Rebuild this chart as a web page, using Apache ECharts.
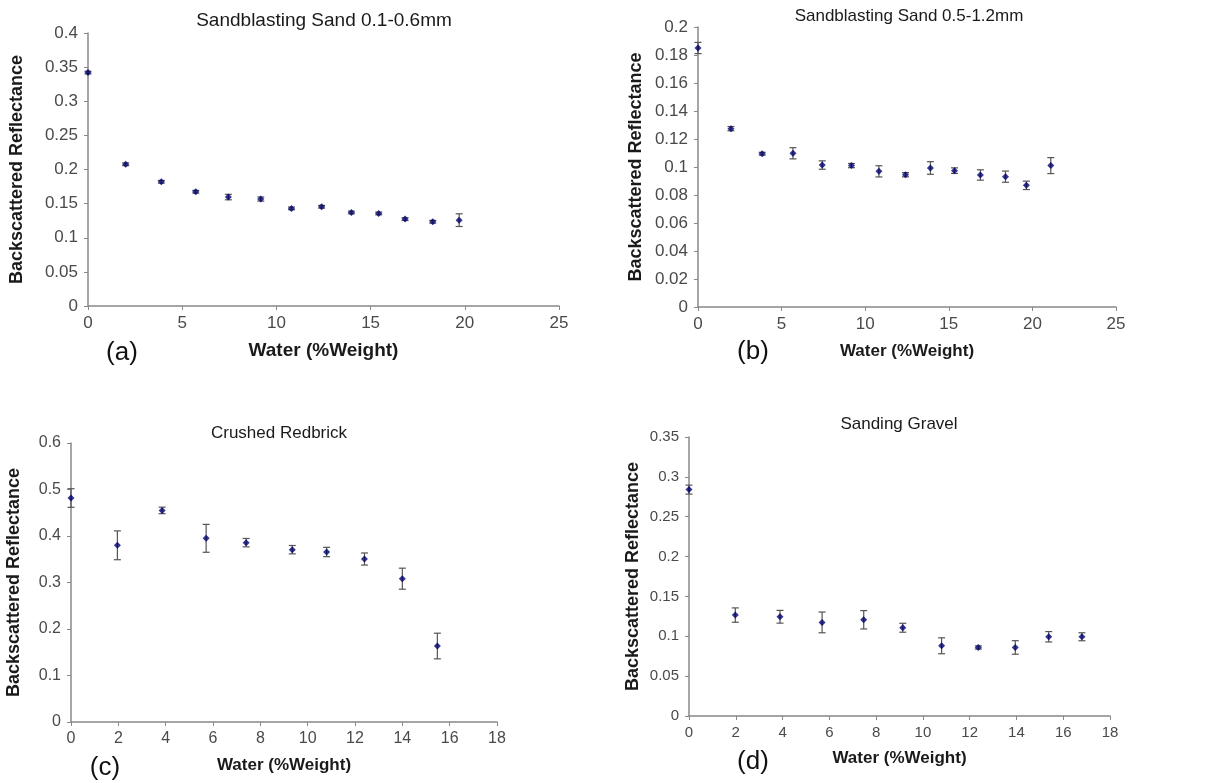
<!DOCTYPE html>
<html>
<head>
<meta charset="utf-8">
<script src="https://cdn.jsdelivr.net/npm/echarts@6/dist/echarts.min.js"></script>
<style>
html,body{margin:0;padding:0;background:#fff;}
#chart{width:1210px;height:783px;}
</style>
</head>
<body>
<div id="chart"></div>
<script>
// ---- Data ----
const titles = ['Sandblasting Sand 0.1-0.6mm', 'Sandblasting Sand 0.5-1.2mm', 'Crushed Redbrick', 'Sanding Gravel'];
const panelLabels = ['(a)', '(b)', '(c)', '(d)'];
const xAxisTitle = 'Water (%Weight)';
const yAxisTitle = 'Backscattered Reflectance';

const waterA = [0, 2.0, 3.89, 5.72, 7.45, 9.17, 10.8, 12.4, 13.98, 15.43, 16.83, 18.3, 19.7];
const reflA  = [0.342, 0.2076, 0.182, 0.1674, 0.1596, 0.1567, 0.143, 0.1454, 0.137, 0.1356, 0.1273, 0.1234, 0.1258];
const errA   = [0.002, 0.002, 0.002, 0.002, 0.004, 0.003, 0.002, 0.002, 0.002, 0.002, 0.002, 0.002, 0.0093];

const waterB = [0, 1.97, 3.84, 5.68, 7.43, 9.18, 10.82, 12.41, 13.9, 15.34, 16.89, 18.39, 19.64, 21.1];
const reflB  = [0.185, 0.1274, 0.1095, 0.1098, 0.1014, 0.101, 0.0969, 0.0945, 0.0993, 0.0974, 0.0943, 0.0931, 0.0869, 0.101];
const errB   = [0.004, 0.0015, 0.001, 0.004, 0.003, 0.0015, 0.004, 0.0015, 0.0045, 0.002, 0.0037, 0.004, 0.003, 0.0057];

const waterC = [0, 1.96, 3.85, 5.71, 7.4, 9.35, 10.8, 12.4, 14.0, 15.48];
const reflC  = [0.4817, 0.38, 0.455, 0.395, 0.3857, 0.3706, 0.3656, 0.3505, 0.3082, 0.1634];
const errC   = [0.02, 0.031, 0.007, 0.03, 0.009, 0.009, 0.01, 0.013, 0.0226, 0.0276];

const waterD = [0, 1.98, 3.89, 5.69, 7.47, 9.14, 10.8, 12.37, 13.95, 15.38, 16.8];
const reflD  = [0.284, 0.1266, 0.1245, 0.1174, 0.1207, 0.1107, 0.0881, 0.086, 0.086, 0.0994, 0.0994];
const errD   = [0.0056, 0.009, 0.008, 0.013, 0.0115, 0.0056, 0.01, 0.002, 0.0085, 0.0065, 0.005];

const xMax = [25, 25, 18, 18];
const xStep = [5, 5, 2, 2];
const yMax = [0.4, 0.2, 0.6, 0.35];
const yStep = [0.05, 0.02, 0.1, 0.05];

const panels = [
  [waterA, reflA, errA],
  [waterB, reflB, errB],
  [waterC, reflC, errC],
  [waterD, reflD, errD]
];

// ---- Layout ----
const grids = [
  {left: 88, top: 33, width: 471, height: 273},
  {left: 698, top: 27, width: 418, height: 280},
  {left: 71, top: 443, width: 426, height: 279},
  {left: 689, top: 437, width: 421, height: 279}
];
const yNameGap = [62, 53, 48, 47];
const xNameGap = [35, 36, 35, 34];
const titleFont = [19, 17, 17, 17];
const xNameFont = [19, 17, 17, 17];
const tickFont = [17, 17, 16, 15];
const titlePos = [
  {x: 319, y: 6}, {x: 904, y: 3}, {x: 274, y: 420}, {x: 894, y: 411}
];
const labelPos = [
  {x: 122, y: 353}, {x: 753, y: 352}, {x: 105, y: 768}, {x: 753, y: 762}
];

const axisGray = '#888888';
const textGray = '#4a4a4a';
const font = 'Liberation Sans, Arial, sans-serif';

const option = {
  backgroundColor: '#fff',
  animation: false,
  title: titles.map((t, i) => ({
    text: t,
    left: titlePos[i].x,
    top: titlePos[i].y,
    textAlign: 'center',
    textStyle: {fontFamily: font, fontSize: titleFont[i], fontWeight: 'normal', color: '#1a1a1a'}
  })),
  graphic: panelLabels.map((t, i) => ({
    type: 'text',
    x: labelPos[i].x,
    y: labelPos[i].y,
    style: {text: t, font: '26px Liberation Sans, Arial, sans-serif', fill: '#111',
      align: 'center', verticalAlign: 'middle'}
  })),
  grid: grids.map(g => Object.assign({containLabel: false}, g)),
  xAxis: grids.map((g, i) => ({
    gridIndex: i,
    type: 'value',
    min: 0,
    max: xMax[i],
    interval: xStep[i],
    name: xAxisTitle,
    nameLocation: 'middle',
    nameGap: xNameGap[i],
    nameTextStyle: {fontFamily: font, fontSize: xNameFont[i], fontWeight: 'bold', color: '#1a1a1a'},
    axisLine: {show: true, lineStyle: {color: axisGray, width: 1.5}},
    axisTick: {show: true, inside: false, length: 4, lineStyle: {color: axisGray}},
    axisLabel: {fontFamily: font, fontSize: tickFont[i], color: textGray, margin: 9},
    splitLine: {show: false}
  })),
  yAxis: grids.map((g, i) => ({
    gridIndex: i,
    type: 'value',
    min: 0,
    max: yMax[i],
    interval: yStep[i],
    name: yAxisTitle,
    nameLocation: 'middle',
    nameRotate: 90,
    nameGap: yNameGap[i],
    nameTextStyle: {fontFamily: font, fontSize: 18, fontWeight: 'bold', color: '#1a1a1a'},
    axisLine: {show: true, lineStyle: {color: axisGray, width: 1.5}},
    axisTick: {show: true, inside: false, length: 4, lineStyle: {color: axisGray}},
    axisLabel: {fontFamily: font, fontSize: tickFont[i], color: textGray, margin: 10,
      formatter: v => String(+v.toFixed(3))},
    splitLine: {show: false}
  })),
  series: []
};

panels.forEach((p, i) => {
  const [xs, ys, es] = p;
  option.series.push({
    type: 'custom',
    xAxisIndex: i,
    yAxisIndex: i,
    data: xs.map((x, k) => [x, ys[k] - es[k], ys[k] + es[k]]),
    renderItem: function (params, api) {
      const x = api.value(0);
      const lo = api.coord([x, api.value(1)]);
      const hi = api.coord([x, api.value(2)]);
      const cap = 3.5;
      const st = {stroke: '#555', lineWidth: 1.2};
      return {
        type: 'group',
        children: [
          {type: 'line', shape: {x1: lo[0], y1: lo[1], x2: hi[0], y2: hi[1]}, style: st},
          {type: 'line', shape: {x1: lo[0] - cap, y1: lo[1], x2: lo[0] + cap, y2: lo[1]}, style: st},
          {type: 'line', shape: {x1: hi[0] - cap, y1: hi[1], x2: hi[0] + cap, y2: hi[1]}, style: st}
        ]
      };
    },
    z: 2
  });
  option.series.push({
    type: 'scatter',
    xAxisIndex: i,
    yAxisIndex: i,
    symbol: 'diamond',
    symbolSize: 7,
    itemStyle: {color: '#00006e'},
    data: xs.map((x, k) => [x, ys[k]]),
    z: 3
  });
});

const chart = echarts.init(document.getElementById('chart'), null, {renderer: 'canvas'});
chart.setOption(option);
</script>
</body>
</html>
